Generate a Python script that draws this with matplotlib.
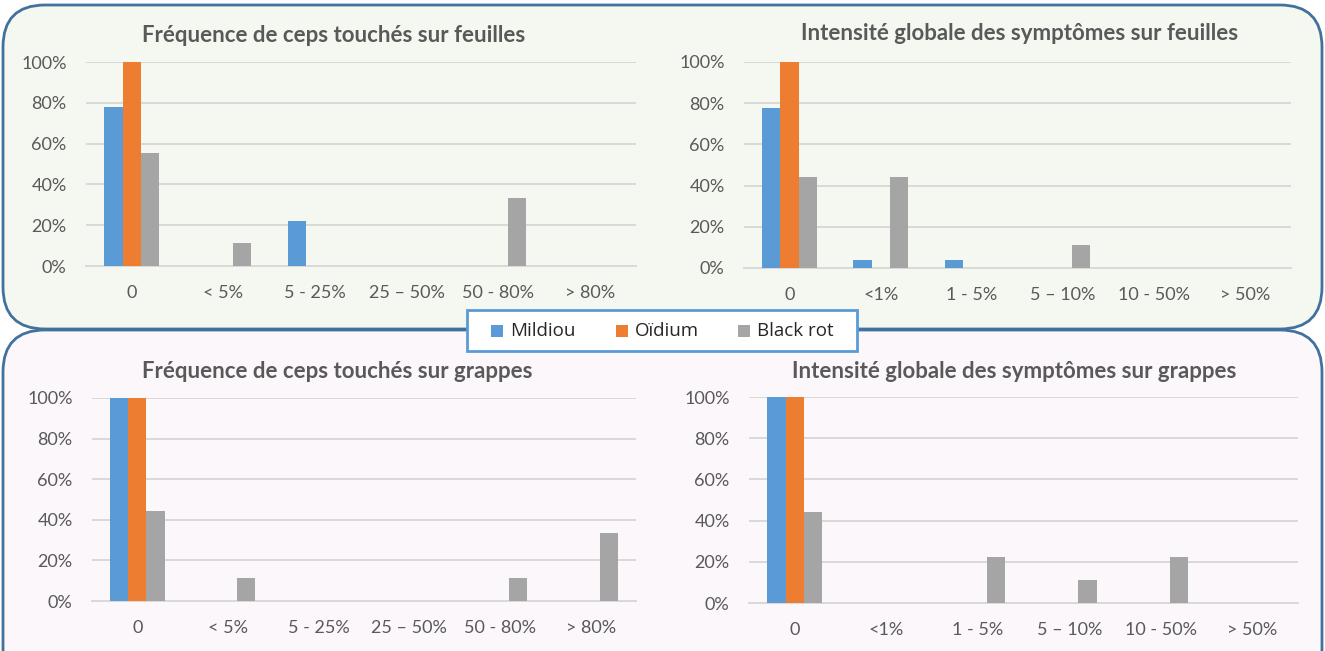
import numpy as np
import matplotlib.pyplot as plt
from matplotlib.patches import FancyBboxPatch, Rectangle
from matplotlib.ticker import PercentFormatter

plt.rcParams['font.family'] = ['Lato', 'DejaVu Sans']

# Data (share of vines, 0..100 %)
series = ['Mildiou', 'Oïdium', 'Black rot']
colors = ['#5b9bd5', '#ed7d31', '#a5a5a5']

freq_cats = ['0', '< 5%', '5 - 25%', '25 – 50%', '50 - 80%', '> 80%']
int_cats = ['0', '<1%', '1 - 5%', '5 – 10%', '10 - 50%', '> 50%']

freq_feuilles = {
    'Mildiou':   [77.8, 0, 22.2, 0, 0, 0],
    'Oïdium':    [100, 0, 0, 0, 0, 0],
    'Black rot': [55.6, 11.1, 0, 0, 33.3, 0],
}
int_feuilles = {
    'Mildiou':   [77.8, 3.7, 3.7, 0, 0, 0],
    'Oïdium':    [100, 0, 0, 0, 0, 0],
    'Black rot': [44.4, 44.4, 0, 11.1, 0, 0],
}
freq_grappes = {
    'Mildiou':   [100, 0, 0, 0, 0, 0],
    'Oïdium':    [100, 0, 0, 0, 0, 0],
    'Black rot': [44.4, 11.1, 0, 0, 11.1, 33.3],
}
int_grappes = {
    'Mildiou':   [100, 0, 0, 0, 0, 0],
    'Oïdium':    [100, 0, 0, 0, 0, 0],
    'Black rot': [44.4, 0, 22.2, 11.1, 22.2, 0],
}

W, H = 1325, 651
fig = plt.figure(figsize=(W / 100, H / 100), dpi=100)

# rounded panels (inches)
border = '#41719c'
bot_box = FancyBboxPatch((0.03, -0.4), 13.19, 3.61, boxstyle='round,pad=0,rounding_size=0.42',
                         transform=fig.dpi_scale_trans, facecolor='#fcf7fa', edgecolor=border,
                         linewidth=2, zorder=-2)
top_box = FancyBboxPatch((0.03, 3.22), 13.19, 3.24, boxstyle='round,pad=0,rounding_size=0.42',
                         transform=fig.dpi_scale_trans, facecolor='#f5f8f1', edgecolor=border,
                         linewidth=2, zorder=-1)
fig.patches.extend([bot_box, top_box])

text_col = '#595959'
grid_col = '#d9d9d9'


def px_axes(x0, x1, y_top, y_bot):
    return fig.add_axes([x0 / W, 1 - y_bot / H, (x1 - x0) / W, (y_bot - y_top) / H])


panels = [
    # (x0, x1, y100, y0, title, title_x, title_y, cats, data)
    (86, 636, 62, 266, 'Fréquence de ceps touchés sur feuilles', 334, 35, freq_cats, freq_feuilles),
    (744, 1291, 62, 268, 'Intensité globale des symptômes sur feuilles', 1020, 33, int_cats, int_feuilles),
    (92, 636, 398, 601, 'Fréquence de ceps touchés sur grappes', 337, 372, freq_cats, freq_grappes),
    (749, 1298, 397, 603, 'Intensité globale des symptômes sur grappes', 1014, 372, int_cats, int_grappes),
]

bw = 0.2
for x0, x1, y100, y0, title, tx, ty, cats, data in panels:
    ax = px_axes(x0, x1, y100, y0)
    ax.patch.set_alpha(0)
    x = np.arange(len(cats))
    for i, s in enumerate(series):
        ax.bar(x + (i - 1) * bw, data[s], width=bw, color=colors[i], label=s, zorder=3)
    ax.set_xlim(-0.5, len(cats) - 0.5)
    ax.set_ylim(0, 100)
    ax.set_yticks([0, 20, 40, 60, 80, 100])
    ax.yaxis.set_major_formatter(PercentFormatter(decimals=0))
    ax.set_xticks(x)
    ax.set_xticklabels(cats)
    ax.tick_params(length=0, labelsize=13, colors=text_col)
    ax.tick_params(axis='y', pad=14)
    ax.tick_params(axis='x', pad=14)
    ax.yaxis.grid(True, color=grid_col, linewidth=1.4, zorder=0)
    ax.set_axisbelow(True)
    for sp in ['top', 'right', 'left']:
        ax.spines[sp].set_visible(False)
    ax.spines['bottom'].set_color(grid_col)
    ax.spines['bottom'].set_linewidth(1.4)
    fig.text(tx / W, 1 - ty / H, title, ha='center', va='center', fontsize=16,
             fontweight='bold', color=text_col)

# shared legend box between the two panels
px = fig.transFigure.inverted()


def fpt(xp, yp):
    return xp / W, 1 - yp / H


lx0, ly0 = fpt(467, 351)
fig.patches.append(Rectangle((lx0, ly0), 390 / W, 41 / H, transform=fig.transFigure,
                             facecolor='white', edgecolor='#5b9bd5', linewidth=2, zorder=5))
key_x = [491, 616, 738]
for kx, s, c in zip(key_x, series, colors):
    sx, sy = fpt(kx, 337)
    fig.patches.append(Rectangle((sx, sy), 12 / W, 12 / H, transform=fig.transFigure,
                                 facecolor=c, edgecolor='none', zorder=6))
    tx_, ty_ = fpt(kx + 19, 331)
    fig.text(tx_, ty_, s, ha='left', va='center', fontsize=13.5, color='#262626',
             family=['Open Sans', 'DejaVu Sans'], zorder=7)

fig.savefig('out.png', dpi=100)
